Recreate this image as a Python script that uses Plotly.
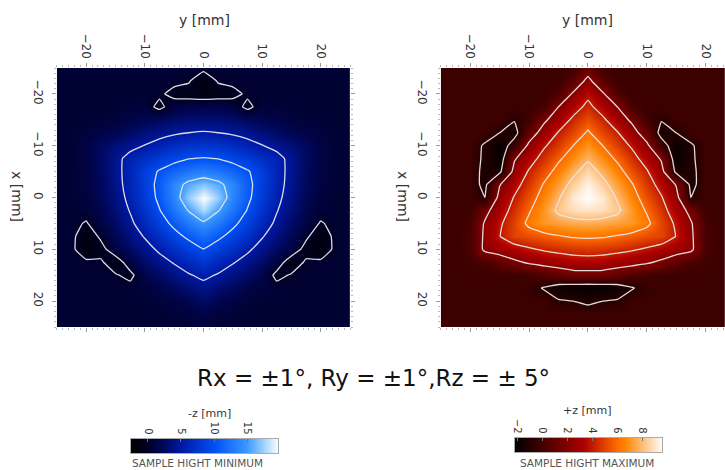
import plotly.graph_objects as go

# Sample grid positions in mm (rows: x, columns: y)
grid_mm = [-25, -22.5, -20, -17.5, -15, -12.5, -10, -7.5, -5, -2.5, 0,
           2.5, 5, 7.5, 10, 12.5, 15, 17.5, 20, 22.5, 25]

# Sample height minimum, -z [mm]; one row per x position
z_min_height = [
    [0.6] * 21,
    [0.6] * 9 + [0.2, -1.6, 0.2] + [0.6] * 9,
    [0.6] * 6 + [0.62, 0.4, -0.7, -1.0, -1.2, -1.0, -0.7, 0.4, 0.62] + [0.6] * 6,
    [0.6, 0.6, 0.6, 0.6, 0.65, 0.78, 0.95, -0.6, 1.2, 1.6, 1.65, 1.6, 1.2, -0.6, 0.95, 0.78, 0.65, 0.6, 0.6, 0.6, 0.6],
    [0.6, 0.6, 0.65, 0.8, 1.05, 1.45, 1.9, 2.4, 2.8, 3.1, 3.2, 3.1, 2.8, 2.4, 1.9, 1.45, 1.05, 0.8, 0.65, 0.6, 0.6],
    [0.6, 0.7, 0.95, 1.4, 2.0, 2.65, 3.4, 4.1, 4.65, 5.0, 5.2, 5.0, 4.65, 4.1, 3.4, 2.65, 2.0, 1.4, 0.95, 0.7, 0.6],
    [0.6, 0.7, 1.3, 2.45, 3.35, 4.25, 5.1, 6.0, 6.8, 7.4, 7.6, 7.4, 6.8, 6.0, 5.1, 4.25, 3.35, 2.45, 1.3, 0.7, 0.6],
    [0.6, 0.7, 1.25, 2.45, 4.2, 5.9, 7.0, 8.15, 9.15, 9.95, 10.2, 9.95, 9.15, 8.15, 7.0, 5.9, 4.2, 2.45, 1.25, 0.7, 0.6],
    [0.6, 0.7, 1.2, 2.4, 4.15, 6.1, 8.45, 10.3, 11.55, 12.7, 13.2, 12.7, 11.55, 10.3, 8.45, 6.1, 4.15, 2.4, 1.2, 0.7, 0.6],
    [0.6, 0.65, 1.1, 2.3, 4.05, 6.0, 8.35, 10.9, 13.7, 15.8, 17.0, 15.8, 13.7, 10.9, 8.35, 6.0, 4.05, 2.3, 1.1, 0.65, 0.6],
    [0.6, 0.62, 1.0, 2.1, 3.75, 5.7, 8.05, 10.7, 13.5, 17.3, 19.7, 17.3, 13.5, 10.7, 8.05, 5.7, 3.75, 2.1, 1.0, 0.62, 0.6],
    [0.6, 0.6, 0.85, 1.75, 3.3, 5.15, 7.4, 9.85, 12.5, 15.2, 17.9, 15.2, 12.5, 9.85, 7.4, 5.15, 3.3, 1.75, 0.85, 0.6, 0.6],
    [0.6, 0.6, -0.2, 1.4, 2.7, 4.45, 6.45, 8.6, 10.75, 12.9, 14.5, 12.9, 10.75, 8.6, 6.45, 4.45, 2.7, 1.4, -0.2, 0.6, 0.6],
    [0.6, 0.6, -1.5, 0.4, 2.05, 3.55, 5.2, 7.1, 8.95, 10.65, 12.0, 10.65, 8.95, 7.1, 5.2, 3.55, 2.05, 0.4, -1.5, 0.6, 0.6],
    [0.6, 0.6, -1.8, -0.8, 1.4, 2.55, 4.0, 5.45, 7.05, 8.45, 9.95, 8.45, 7.05, 5.45, 4.0, 2.55, 1.4, -0.8, -1.8, 0.6, 0.6],
    [0.6, 0.6, 0.5, 0.3, -1.3, 1.2, 2.75, 4.05, 5.2, 6.5, 7.65, 6.5, 5.2, 4.05, 2.75, 1.2, -1.3, 0.3, 0.5, 0.6, 0.6],
    [0.6, 0.6, 0.6, 0.6, 0.2, -0.6, 1.7, 2.6, 3.7, 4.75, 5.65, 4.75, 3.7, 2.6, 1.7, -0.6, 0.2, 0.6, 0.6, 0.6, 0.6],
    [0.6, 0.6, 0.6, 0.6, 0.6, 0.7, 0.95, 1.55, 2.3, 3.15, 4.05, 3.15, 2.3, 1.55, 0.95, 0.7, 0.6, 0.6, 0.6, 0.6, 0.6],
    [0.6] * 6 + [0.65, 0.85, 1.3, 1.85, 2.55, 1.85, 1.3, 0.85, 0.65] + [0.6] * 6,
    [0.6] * 7 + [0.62, 0.77, 1.0, 1.45, 1.0, 0.77, 0.62] + [0.6] * 7,
    [0.6] * 9 + [0.65, 0.82, 0.65] + [0.6] * 9,
]

# Sample height maximum, +z [mm]; one row per x position
z_max_height = [
    [-0.3] * 10 + [1.1] + [-0.3] * 10,
    [-0.3] * 9 + [0.6, 2.5, 0.6] + [-0.3] * 9,
    [-0.3] * 8 + [0.2, 2.25, 3.6, 2.25, 0.2] + [-0.3] * 8,
    [-0.3] * 7 + [-0.05, 2.0, 3.3, 4.4, 3.3, 2.0, -0.05] + [-0.3] * 7,
    [-0.3] * 5 + [-0.9, -0.2, 1.65, 3.0, 4.3, 5.25, 4.3, 3.0, 1.65, -0.2, -0.9] + [-0.3] * 5,
    [-0.3] * 4 + [-1.0, -1.6, 1.0, 2.75, 4.1, 5.0, 6.2, 5.0, 4.1, 2.75, 1.0, -1.6, -1.0] + [-0.3] * 4,
    [-0.3] * 3 + [-1.2, -2.0, -0.2, 2.4, 3.8, 4.8, 6.0, 7.0, 6.0, 4.8, 3.8, 2.4, -0.2, -2.0, -1.2] + [-0.3] * 3,
    [-0.3, -0.3, -0.35, -1.25, -2.0, 1.8, 3.35, 4.55, 5.75, 6.8, 7.8, 6.8, 5.75, 4.55, 3.35, 1.8, -2.0, -1.25, -0.35, -0.3, -0.3],
    [-0.3, -0.3, -0.3, -1.4, -1.4, 2.65, 4.15, 5.3, 6.55, 7.65, 8.7, 7.65, 6.55, 5.3, 4.15, 2.65, -1.4, -1.4, -0.3, -0.3, -0.3],
    [-0.3, -0.3, -0.3, -1.4, 1.9, 3.45, 4.7, 6.1, 7.25, 8.45, 9.35, 8.45, 7.25, 6.1, 4.7, 3.45, 1.9, -1.4, -0.3, -0.3, -0.3],
    [-0.3, -0.3, -0.3, -1.0, 2.6, 4.1, 5.3, 6.6, 7.85, 9.1, 9.6, 9.1, 7.85, 6.6, 5.3, 4.1, 2.6, -1.0, -0.3, -0.3, -0.3],
    [-0.3, -0.3, -0.3, 1.4, 3.2, 4.55, 5.85, 7.05, 8.3, 8.8, 9.0, 8.8, 8.3, 7.05, 5.85, 4.55, 3.2, 1.4, -0.3, -0.3, -0.3],
    [-0.3, -0.3, -0.05, 2.2, 3.75, 5.0, 6.35, 7.05, 7.3, 7.5, 7.6, 7.5, 7.3, 7.05, 6.35, 5.0, 3.75, 2.2, -0.05, -0.3, -0.3],
    [-0.3, -0.3, 0.05, 2.35, 3.95, 5.0, 5.25, 5.6, 5.9, 6.15, 6.25, 6.15, 5.9, 5.6, 5.25, 5.0, 3.95, 2.35, 0.05, -0.3, -0.3],
    [-0.3, -0.3, 0.05, 2.4, 2.9, 3.35, 3.8, 4.2, 4.45, 4.63, 4.7, 4.63, 4.45, 4.2, 3.8, 3.35, 2.9, 2.4, 0.05, -0.3, -0.3],
    [-0.3, -0.3, -0.15, 0.15, 0.8, 1.65, 2.25, 2.65, 2.95, 3.25, 3.3, 3.25, 2.95, 2.65, 2.25, 1.65, 0.8, 0.15, -0.15, -0.3, -0.3],
    [-0.3] * 6 + [-0.1, 0.3, 0.8, 1.25, 1.3, 1.25, 0.8, 0.3, -0.1] + [-0.3] * 6,
    [-0.3] * 6 + [-0.5, -1.1, -1.7, -1.9, -2.0, -1.9, -1.7, -1.1, -0.5] + [-0.3] * 6,
    [-0.3] * 8 + [-0.9, -1.0, -1.3, -1.0, -0.9] + [-0.3] * 8,
    [-0.3] * 21,
    [-0.3] * 21,
]

# Colour ranges and contour levels
min_range = [-2.6, 19.7]
max_range = [-2.24, 9.6]
min_levels = dict(start=0, end=15, size=5)
max_levels = dict(start=2, end=8, size=2)
max_hole_level = -1
axis_ticks = [-20, -10, 0, 10, 20]
min_bar_ticks = [0, 5, 10, 15]
max_bar_ticks = [-2, 0, 2, 4, 6, 8]

blue_scale = [
    [0.0, "rgb(0,0,0)"], [0.117, "rgb(0,0,38)"], [0.2, "rgb(0,5,80)"],
    [0.341, "rgb(0,25,165)"], [0.565, "rgb(0,80,245)"], [0.789, "rgb(60,155,255)"],
    [0.9, "rgb(160,210,255)"], [1.0, "rgb(255,255,255)"],
]
heat_scale = [
    [0.0, "rgb(0,0,0)"], [0.47, "rgb(174,0,0)"], [0.69, "rgb(255,106,0)"],
    [0.745, "rgb(255,132,0)"], [1.0, "rgb(255,255,255)"],
]

FONT = "DejaVu Sans, Verdana, sans-serif"
LINE = dict(color="rgba(232,232,232,0.95)", width=1.3, smoothing=0.3)

fig = go.Figure()

# Left map: minimum height
fig.add_trace(go.Heatmap(z=z_min_height, x=grid_mm, y=grid_mm, colorscale=blue_scale,
                         zmin=min_range[0], zmax=min_range[1], zsmooth="best",
                         showscale=False, hoverinfo="skip", xaxis="x", yaxis="y"))
fig.add_trace(go.Contour(z=z_min_height, x=grid_mm, y=grid_mm,
                         contours=dict(coloring="none", **min_levels),
                         line=LINE, showscale=False, hoverinfo="skip", xaxis="x", yaxis="y"))

# Right map: maximum height
fig.add_trace(go.Heatmap(z=z_max_height, x=grid_mm, y=grid_mm, colorscale=heat_scale,
                         zmin=max_range[0], zmax=max_range[1], zsmooth="best",
                         showscale=False, hoverinfo="skip", xaxis="x2", yaxis="y2"))
fig.add_trace(go.Contour(z=z_max_height, x=grid_mm, y=grid_mm,
                         contours=dict(coloring="none", **max_levels),
                         line=LINE, showscale=False, hoverinfo="skip", xaxis="x2", yaxis="y2"))
fig.add_trace(go.Contour(z=z_max_height, x=grid_mm, y=grid_mm,
                         contours=dict(coloring="none", start=max_hole_level,
                                       end=max_hole_level, size=1),
                         line=LINE, showscale=False, hoverinfo="skip", xaxis="x2", yaxis="y2"))

# Horizontal colour bars drawn as thin heatmaps
n_steps = 200
min_bar = [min_range[0] + i * (min_range[1] - min_range[0]) / (n_steps - 1) for i in range(n_steps)]
max_bar = [max_range[0] + i * (max_range[1] - max_range[0]) / (n_steps - 1) for i in range(n_steps)]
fig.add_trace(go.Heatmap(z=[min_bar], x=min_bar, y=[0], colorscale=blue_scale,
                         zmin=min_range[0], zmax=min_range[1], zsmooth="best",
                         showscale=False, hoverinfo="skip", xaxis="x3", yaxis="y3"))
fig.add_trace(go.Heatmap(z=[max_bar], x=max_bar, y=[0], colorscale=heat_scale,
                         zmin=max_range[0], zmax=max_range[1], zsmooth="best",
                         showscale=False, hoverinfo="skip", xaxis="x4", yaxis="y4"))

map_axis = dict(
    tickvals=axis_ticks, tickangle=90, ticks="outside", ticklen=4, tickwidth=1,
    tickcolor="#9a9a9a", showgrid=False, zeroline=False, showline=False, mirror="ticks",
    tickfont=dict(size=12, color="#333", family=FONT),
    minor=dict(ticks="outside", ticklen=2, dtick=1, tickcolor="#b8b8b8", showgrid=False),
)
bar_axis = dict(
    side="top", tickangle=90, ticks="inside", ticklen=3, tickcolor="#777",
    showgrid=False, zeroline=False, showline=True, linecolor="#aaa", linewidth=1,
    mirror=True, tickfont=dict(size=10, color="#333", family=FONT),
)
bar_yaxis = dict(range=[-0.5, 0.5], showticklabels=False, ticks="", showgrid=False,
                 zeroline=False, showline=True, linecolor="#aaa", linewidth=1, mirror=True)

y_dom = [1 - 327 / 470, 1 - 68 / 470]
fig.update_layout(
    width=725, height=470, margin=dict(l=0, r=0, t=0, b=0),
    paper_bgcolor="white", plot_bgcolor="white", showlegend=False,
    font=dict(family=FONT, color="#333"),
    xaxis=dict(domain=[55 / 725, 349 / 725], range=[-25, 25], side="top", anchor="y", **map_axis),
    yaxis=dict(domain=y_dom, range=[25, -25], anchor="x", ticklabelstandoff=3, **map_axis),
    xaxis2=dict(domain=[440 / 725, 1.0], range=[-25, 23.3], side="top", anchor="y2", **map_axis),
    yaxis2=dict(domain=y_dom, range=[25, -25], anchor="x2", ticklabelstandoff=3, **map_axis),
    xaxis3=dict(domain=[129 / 725, 277 / 725], range=min_range, tickvals=min_bar_ticks,
                anchor="y3", **bar_axis),
    yaxis3=dict(domain=[1 - 453 / 470, 1 - 439 / 470], anchor="x3", **bar_yaxis),
    xaxis4=dict(domain=[514 / 725, 662 / 725], range=max_range, tickvals=max_bar_ticks,
                anchor="y4", **bar_axis),
    yaxis4=dict(domain=[1 - 452 / 470, 1 - 438 / 470], anchor="x4", **bar_yaxis),
)


def label(text, x, y, size, color="#333", angle=0):
    fig.add_annotation(text=text, x=x / 725, y=1 - y / 470, xref="paper", yref="paper",
                       showarrow=False, textangle=angle, xanchor="center", yanchor="middle",
                       font=dict(size=size, color=color, family=FONT))


label("y [mm]", 203, 20, 14)
label("y [mm]", 587, 20, 14)
label("x [mm]", 15, 197, 14, angle=90)
label("x [mm]", 402, 197, 14, angle=90)
label("Rx = ±1°, Ry = ±1°,Rz = ± 5°", 373, 378, 23, color="#111")
label("-z [mm]", 208, 413, 11)
label("+z [mm]", 587, 410, 11)
label("SAMPLE HIGHT MINIMUM", 196, 463, 10.5, color="#555")
label("SAMPLE HIGHT MAXIMUM", 587, 463, 10.5, color="#555")

fig.write_html("out.html")
